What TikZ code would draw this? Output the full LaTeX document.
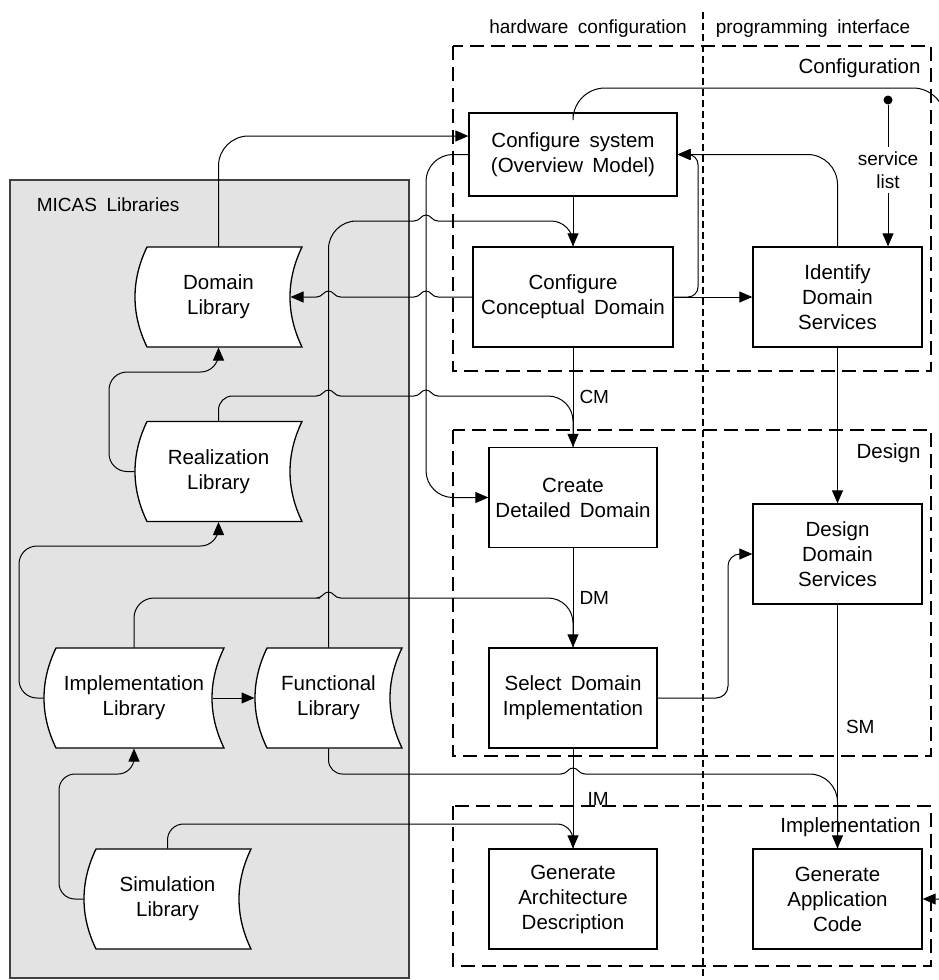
\documentclass[tikz,border=0pt]{standalone}
\usepackage{fontspec}
\setmainfont{Liberation Sans}
\usetikzlibrary{arrows.meta}

\newcommand{\boxfont}{\fontsize{20.5}{25}\selectfont\spaceskip=0.45em\relax}
\newcommand{\smallfont}{\fontsize{19}{23}\selectfont\spaceskip=0.5em\relax}

% line jump over a vertical connector at x=#1, y=#2
\newcommand{\hop}[2]{-- ({#1-12},#2) .. controls +(6,0) and +(-5,0) .. ({#1},{#2-6}) .. controls +(5,0) and +(-6,0) .. ({#1+12},#2)}

% library symbol: name, centre x, centre y, half width, text
\newcommand{\libshape}[5]{%
  \draw[libline] ({#2-#4+12},{#3-50}) -- ({#2+#4},{#3-50})
    .. controls ({#2+#4-16},{#3-17}) and ({#2+#4-16},{#3+17}) .. ({#2+#4},{#3+50})
    -- ({#2-#4+12},{#3+50})
    .. controls ({#2-#4-4},{#3+17}) and ({#2-#4-4},{#3-17}) .. cycle;
  \node[libtext, minimum width={2*#4}] (#1) at (#2,#3) {#5};}

\begin{document}
\begin{tikzpicture}[x=1pt, y=-1pt, line width=1pt,
  box/.style={draw, fill=white, line width=1.3pt, align=center, font=\boxfont,
    minimum height=100, inner sep=2pt},
  libtext/.style={align=center, font=\boxfont, minimum height=100, inner sep=0pt},
  libline/.style={draw, fill=white, line width=1.3pt},
  arr/.style={-{Triangle[length=13pt,width=11pt]}},
  rarr/.style={{Triangle[length=13pt,width=11pt]}-},
  flowlabel/.style={font=\smallfont, inner sep=2pt},
  phase/.style={draw, line width=1.7pt, dash pattern=on 14pt off 7pt},
  column/.style={draw, line width=1.3pt, dash pattern=on 7pt off 4pt},
  phasename/.style={font=\boxfont, anchor=east, inner sep=0pt}]
  \useasboundingbox (0,0) rectangle (939,980);
  \clip (0,0) rectangle (939,980);

  \draw[phase] (453,46) rectangle (931,371);
  \draw[phase] (453,430) rectangle (931,756);
  \draw[phase] (453,806) rectangle (931,966);
  \draw[column] (703,12) -- (703,980);
  \node[font=\smallfont] (hwcol) at (588,29) {hardware configuration};
  \node[font=\smallfont] (pgcol) at (813,29) {programming interface};
  \node[phasename] (cfgphase) at (921,68) {Configuration};
  \node[phasename] (desphase) at (921,453) {Design};
  \node[phasename] (impphase) at (921,827) {Implementation};

  \draw[fill=black!11, draw=black!75, line width=1.6pt] (10,180) rectangle (409,978);
  \node[font=\smallfont, anchor=west] (micas) at (33,205) {MICAS Libraries};

  \libshape{domlib}{218.5}{297}{83.5}{Domain\\Library}
  \libshape{reallib}{218.5}{471.5}{83.5}{Realization\\Library}
  \libshape{implib}{134}{698}{90}{Implementation\\Library}
  \libshape{funclib}{328.5}{698}{73.5}{Functional\\Library}
  \libshape{simlib}{167.5}{899}{83.5}{Simulation\\Library}

  \node[box, minimum width=208, minimum height=83] (confsys) at (573,154.5) {Configure system\\(Overview Model)};
  \node[box, minimum width=200] (confcon) at (573,297) {Configure\\Conceptual Domain};
  \node[box, minimum width=169] (identify) at (837.5,297) {Identify\\Domain\\Services};
  \node[box, minimum width=168] (detailed) at (573,497.5) {Create\\Detailed Domain};
  \node[box, minimum width=169] (designsrv) at (837.5,554) {Design\\Domain\\Services};
  \node[box, minimum width=168] (select) at (573,698) {Select Domain\\Implementation};
  \node[box, minimum width=168] (genarch) at (573,899) {Generate\\Architecture\\Description};
  \node[box, minimum width=169] (genapp) at (837.5,899) {Generate\\Application\\Code};

  \node[circle, fill, inner sep=0pt, minimum size=9] (svcdot) at (888,100) {};
  \node[font=\smallfont, align=center, inner sep=4pt] (svc) at (888,170) {service\\list};
  \draw (svcdot) -- (svc);
  \draw[arr] (svc) -- (svc |- identify.north);

  \draw[arr] (confsys) -- (confcon);
  \draw[arr] (confcon) -- (detailed) node[midway, right=4pt, flowlabel] {CM};
  \draw[arr] (detailed) -- (select) node[midway, right=4pt, flowlabel] {DM};
  \draw[arr] (select) -- (genarch) node[midway, right=12pt, flowlabel] {IM};
  \draw[arr] (confcon) -- (identify);
  \draw[arr] (identify) -- (designsrv);
  \draw[arr] (designsrv) -- (genapp) node[midway, right=6pt, flowlabel] {SM};
  \draw[arr, rounded corners=30] (identify.north) |- (confsys.east);
  \draw[arr, rounded corners=10] (confcon.east) -| (698,154.5) -- (confsys.east);
  \draw[arr, rounded corners=27] (confsys.west) -| (426,497.5) -- (detailed.west);
  \draw[arr, rounded corners=12] (select.east) -| (728,554) -- (designsrv.west);
  \draw[arr] (confsys.north) [rounded corners=32] |- (945,88) [sharp corners] -- (945,899) -- (genapp.east);

  \draw[arr, rounded corners=30] (domlib.north) |- ([yshift=18.5pt]confsys.west);
  \draw[rarr] ([xshift=-12pt]domlib.east) \hop{328.5}{297} \hop{426}{297} -- (confcon.west);
  \draw (funclib.north) [rounded corners=28] |- (380,221) [sharp corners] \hop{426}{221} [rounded corners=22] -- (573,221) -- (confcon.north);
  \draw (reallib.north) [rounded corners=14] |- (300,396) [sharp corners] \hop{328.5}{396} \hop{426}{396} [rounded corners=25] -- (573,396) -- (detailed.north);
  \draw (implib.north) [rounded corners=20] |- (300,598) [sharp corners] \hop{328.5}{598} [rounded corners=25] -- (573,598) -- (select.north);
  \draw (funclib.south) [rounded corners=14] |- (540,774) [sharp corners] \hop{573}{774} [rounded corners=28] -- (837.5,774) -- (genapp.north);
  \draw[rounded corners=16] (simlib.north) |- (573,824) -- (genarch.north);

  \draw[arr, rounded corners=18] (reallib.west) -| (109,372) -| (domlib.south);
  \draw[arr, rounded corners=18] (implib.west) -| (19,546) -| (reallib.south);
  \draw[arr, rounded corners=16] (simlib.west) -| (59,774) -| (implib.south);
  \draw[arr] ([xshift=-12pt]implib.east) -- (funclib.west);
\end{tikzpicture}
\end{document}
